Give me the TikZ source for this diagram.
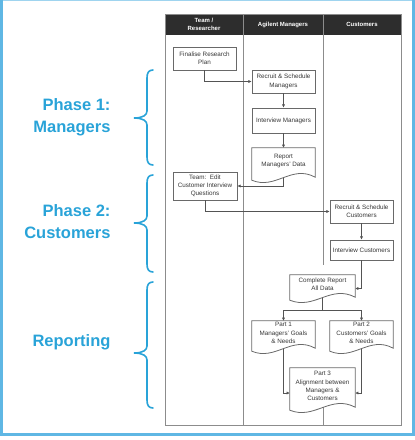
\documentclass[tikz,border=0pt]{standalone}
\usepackage{fontspec}
\setmainfont{Liberation Sans}
\usetikzlibrary{calc,arrows.meta}
\definecolor{lblue}{RGB}{41,163,216}
\definecolor{frameblue}{RGB}{95,183,228}
\definecolor{hdr}{RGB}{45,45,45}
\definecolor{boxgray}{RGB}{105,105,105}
\definecolor{lanegray}{RGB}{140,140,140}
\definecolor{txtgray}{RGB}{55,55,55}
\newcommand\docoutline[1]{\draw[boxline] (#1.north west) -- (#1.north east) -- ($(#1.south east)+(0,3)$) .. controls ($(#1.south)+(8,-10)$) and ($(#1.south)+(-8,16)$) .. ($(#1.south west)+(0,6)$) -- cycle;}
\newcommand\phbrace[3]{\draw[bracestyle] (153,#1) .. controls (148.5,#1) and (147,#1+3) .. (147,#1+8) -- (147,#2-7) .. controls (147,#2-3) and (143,#2) .. (134,#2) .. controls (143,#2) and (147,#2+3) .. (147,#2+7) -- (147,#3-8) .. controls (147,#3-3) and (148.5,#3) .. (153,#3);}
\begin{document}
\begin{tikzpicture}[x=1pt,y=-1pt,
  boxline/.style={draw=boxgray,line width=0.8pt},
  lane/.style={draw=lanegray,line width=0.8pt},
  procbox/.style={boxline,fill=white,inner sep=0pt,align=center,text=txtgray,font=\fontsize{6.3}{8.3}\selectfont},
  docbox/.style={inner sep=0pt,align=center,text=txtgray,font=\fontsize{6.3}{8.3}\selectfont},
  hdrtext/.style={text=white,align=center,font=\bfseries\fontsize{6}{7.5}\selectfont},
  phase/.style={text=lblue,anchor=east,align=right,font=\bfseries\fontsize{16.5}{22}\selectfont},
  conn/.style={draw=boxgray!80!black,line width=0.8pt},
  arr/.style={conn,-{Latex[length=3.2pt,width=3.2pt]}},
  bracestyle/.style={draw=lblue,line width=1.6pt,line cap=round}]
\useasboundingbox (0,0) rectangle (415,440);
% frame
\draw[frameblue!60,line width=1pt] (0,0.5) -- (415,0.5);
\draw[frameblue,line width=3pt] (1.5,0) -- (1.5,434.5) -- (413,434.5) -- (413,0);
% swimlane
\fill[hdr] (165,14) rectangle (401,35);
\draw[lane] (165,14) rectangle (401,425);
\draw[lane] (243,14) -- (243,425);
\draw[lane] (323,14) -- (323,265);
\draw[lane] (323,407) -- (323,425);
\node[hdrtext] (h1) at (204,24.5) {Team /\\Researcher};
\node[hdrtext] (h2) at (283,24.5) {Agilent Managers};
\node[hdrtext] (h3) at (362,24.5) {Customers};
% nodes
\node[procbox,minimum width=63pt,minimum height=23pt] (fin) at (204.5,58.5) {Finalise Research\\Plan};
\node[procbox,minimum width=63pt,minimum height=23pt] (rsm) at (283.5,81.5) {Recruit \& Schedule\\Managers};
\node[procbox,minimum width=63pt,minimum height=25pt] (ivm) at (283.5,120.5) {Interview Managers};
\node[docbox,minimum width=63pt,minimum height=26pt] (rep) at (283.5,161) {Report\\Managers' Data};
\docoutline{rep}
\node[procbox,minimum width=64pt,minimum height=28pt] (team) at (205,186) {Team:\ \ Edit\\Customer Interview\\Questions};
\node[procbox,minimum width=63pt,minimum height=23pt] (rsc) at (361.5,211.5) {Recruit \& Schedule\\Customers};
\node[procbox,minimum width=63pt,minimum height=20pt] (ivc) at (361.5,250) {Interview Customers};
\node[docbox,minimum width=65pt,minimum height=19pt] (comp) at (322.5,284.5) {Complete Report\\All Data};
\docoutline{comp}
\node[docbox,minimum width=63pt,minimum height=24pt] (p1) at (283.5,333) {Part 1\\Managers' Goals\\\& Needs};
\docoutline{p1}
\node[docbox,minimum width=63pt,minimum height=24pt] (p2) at (361.5,333) {Part 2\\Customers' Goals\\\& Needs};
\docoutline{p2}
\node[docbox,minimum width=65pt,minimum height=36pt] (p3) at (322.5,386) {Part 3\\Alignment between\\Managers \&\\Customers};
\docoutline{p3}
\coordinate (sp) at (322.5,310);
% connectors
\draw[arr] (fin.south) |- (rsm.west);
\draw[arr] (rsm.south) -- (ivm.north);
\draw[arr] (ivm.south) -- (rep.north);
\draw[arr] ($(rep.south)+(0,3.5)$) |- (team.east);
\draw[arr] (team.south) |- (rsc.west);
\draw[arr] (rsc.south) -- (ivc.north);
\draw[arr] (ivc.south) |- ($(comp.east)+(0,4)$);
\draw[conn] ($(comp.south)+(0,3.5)$) -- (sp);
\draw[arr] (sp) -| (p1.north);
\draw[arr] (sp) -| (p2.north);
\draw[arr] ($(p1.south)+(0,3.5)$) |- ($(p3.west)+(0,7)$);
\draw[arr] ($(p2.south)+(0,3.5)$) |- ($(p3.east)+(0,7)$);
% phase labels
\node[phase] (ph1) at (114,117.5) {Phase 1:\\Managers};
\node[phase] (ph2) at (114,221.5) {Phase 2:\\Customers};
\node[phase] (ph3) at (114,342.5) {Reporting};
\phbrace{70}{118}{165}
\phbrace{175}{223}{272}
\phbrace{282}{353}{408}
\end{tikzpicture}
\end{document}
